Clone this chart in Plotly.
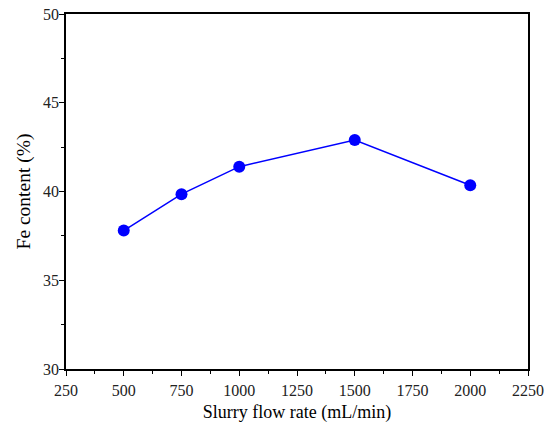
import plotly.graph_objects as go

flow_rate = [500, 750, 1000, 1500, 2000]
fe_content = [37.8, 39.85, 41.4, 42.9, 40.35]

fig = go.Figure()
fig.add_trace(go.Scatter(
    x=flow_rate, y=fe_content, mode="lines+markers",
    line=dict(color="#0000FF", width=1.5),
    marker=dict(color="#0000FF", size=12),
    showlegend=False,
))

axis_common = dict(
    showgrid=False, zeroline=False, showline=True, linecolor="black", linewidth=1.5,
    mirror=True, ticks="outside", ticklen=5, tickwidth=1.2, tickcolor="black",
    tickfont=dict(family="Liberation Serif", size=16, color="#222222"),
)

fig.update_xaxes(
    range=[250, 2250], dtick=250, tick0=250,
    title_text="Slurry flow rate (mL/min)", title_standoff=7,
    title_font=dict(family="Liberation Serif", size=18, color="black"),
    ticklabelstandoff=1,
    minor=dict(ticks="outside", ticklen=3, dtick=125, tick0=250, tickcolor="black"),
    **axis_common,
)
fig.update_yaxes(
    range=[30, 50], dtick=5, tick0=30,
    title_text="Fe content (%)", title_standoff=7,
    title_font=dict(family="Liberation Serif", size=19.5, color="black"),
    ticklabelstandoff=-3,
    minor=dict(ticks="outside", ticklen=3, dtick=2.5, tick0=30, tickcolor="black"),
    **axis_common,
)

fig.update_layout(
    width=552, height=423,
    margin=dict(l=66, r=24, t=14, b=54, autoexpand=False),
    plot_bgcolor="white", paper_bgcolor="white",
)

fig.write_html("out.html", config={"displayModeBar": False},
               post_script="document.body.style.margin='0';")
